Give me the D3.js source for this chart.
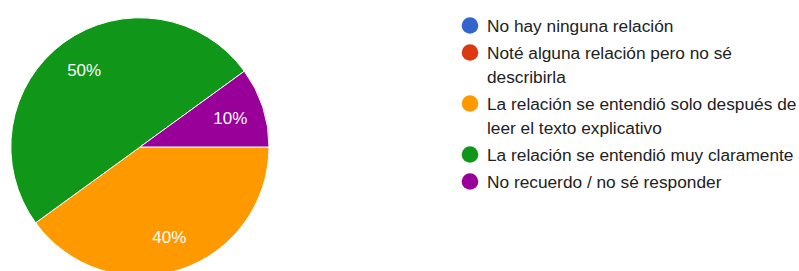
<!DOCTYPE html>
<html lang="es">
<head>
    <meta charset="UTF-8">
    <title>Pie</title>
    <script type="text/javascript" src="https://cdn.jsdelivr.net/npm/d3@7"></script>
    <style type="text/css">
        body {margin: 0; background: #fff;}
        text {font-family: "Liberation Sans", Arial, sans-serif;}
    </style>
</head>
<body>
    <script type="text/javascript">

        var w = 799;
        var h = 271;

        // data
        var categories = [
            "No hay ninguna relación",
            "Noté alguna relación pero no sé describirla",
            "La relación se entendió solo después de leer el texto explicativo",
            "La relación se entendió muy claramente",
            "No recuerdo / no sé responder"
        ];
        var values = [0, 0, 40, 50, 10];
        var colors = ["#3366cc", "#dc3912", "#ff9900", "#109618", "#990099"];

        var cx = 140, cy = 147, r = 129;

        var svg = d3.select("body")
            .append("svg")
            .attr("width", w)
            .attr("height", h);

        var pie = d3.pie()
            .sort(null)
            .value(function(d) { return d; })
            .startAngle(Math.PI / 2)
            .endAngle(Math.PI / 2 + 2 * Math.PI);

        var arc = d3.arc().innerRadius(0).outerRadius(r);
        var labelArc = d3.arc().innerRadius(95).outerRadius(95);

        var total = d3.sum(values);
        var arcs = pie(values);

        var g = svg.append("g")
            .attr("transform", "translate(" + cx + "," + cy + ")");

        g.selectAll("path")
            .data(arcs)
            .enter()
            .append("path")
            .attr("d", arc)
            .attr("fill", function(d, i) { return colors[i]; })
            .attr("stroke", "#fff")
            .attr("stroke-width", 1);

        g.selectAll("text")
            .data(arcs.filter(function(d) { return d.value > 0; }))
            .enter()
            .append("text")
            .attr("transform", function(d) { return "translate(" + labelArc.centroid(d) + ")"; })
            .attr("text-anchor", "middle")
            .attr("dy", "0.35em")
            .attr("fill", "#fff")
            .attr("font-size", "17px")
            .text(function(d) { return Math.round(d.value / total * 100) + "%"; });

        // legend
        var lx = 470, ly = 25.5, lineH = 24, gap = 3, maxW = 314;
        var legend = svg.append("g");
        var y = ly;

        categories.forEach(function(c, i) {
            var item = legend.append("g");
            item.append("circle")
                .attr("cx", lx)
                .attr("cy", y)
                .attr("r", 8.3)
                .attr("fill", colors[i]);

            var t = item.append("text")
                .attr("fill", "#222")
                .attr("font-size", "17.3px");

            // wrap words
            var words = c.split(" ");
            var line = [];
            var n = 0;
            var ts = t.append("tspan").attr("x", lx + 17).attr("y", y).attr("dy", "0.35em");
            words.forEach(function(wd) {
                line.push(wd);
                ts.text(line.join(" "));
                if (ts.node().getComputedTextLength() > maxW && line.length > 1) {
                    line.pop();
                    ts.text(line.join(" "));
                    line = [wd];
                    n++;
                    ts = t.append("tspan")
                        .attr("x", lx + 17)
                        .attr("y", y + n * lineH)
                        .attr("dy", "0.35em")
                        .text(wd);
                }
            });
            y += (n + 1) * lineH + gap;
        });

    </script>
</body>
</html>
